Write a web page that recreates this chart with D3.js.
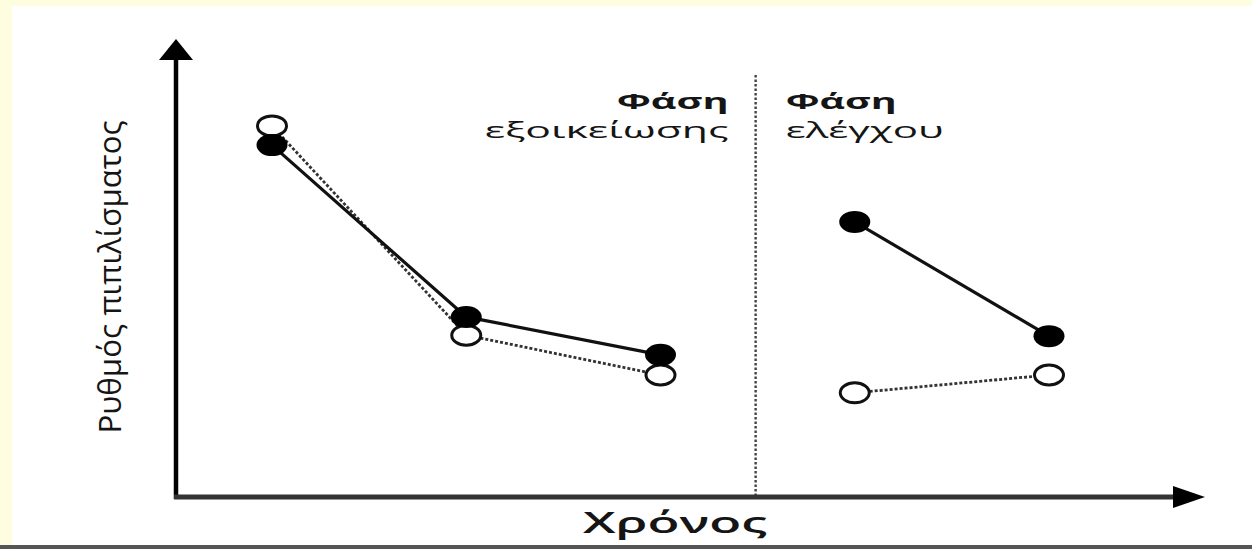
<!DOCTYPE html>
<html>
<head>
<meta charset="utf-8">
<script src="https://cdn.jsdelivr.net/npm/d3@7"></script>
<style>
  html, body { margin: 0; padding: 0; background: #fffde0; }
  svg { display: block; }
  text { font-family: "Open Sans", "Noto Sans", sans-serif; fill: #151515; }
</style>
</head>
<body>
<svg id="chart" width="1252" height="549"></svg>
<script>
// ---- data ----
const timePoints = [1, 2, 3, 4, 5];
const phaseOf    = [1, 1, 1, 2, 2];
const filledSeries = [77.0, 39.4, 31.1, 60.2, 35.2];   // solid line, filled markers
const openSeries   = [81.2, 35.4, 26.7, 22.8, 26.7];   // dotted line, open markers
const phaseBoundary = 3.5;
const phaseLabels = [["Φάση", "εξοικείωσης"], ["Φάση", "ελέγχου"]];
const yLabel = "Ρυθμός πιπιλίσματος";
const xLabel = "Χρόνος";

// ---- layout ----
const W = 1252, H = 549;
const svg = d3.select("#chart");

svg.append("rect").attr("x", 0).attr("y", 0).attr("width", W).attr("height", H).attr("fill", "#fffde0");
svg.append("rect").attr("x", 12).attr("y", 6).attr("width", W - 12).attr("height", H - 10).attr("fill", "#ffffff");
svg.append("rect").attr("x", 0).attr("y", H - 4).attr("width", W).attr("height", 4).attr("fill", "#555");

const x = d3.scaleLinear().domain([1, 5]).range([272, 1049]);
const y = d3.scaleLinear().domain([0, 100]).range([497, 40]);

const originX = 176, originY = y(0);

// phase divider
svg.append("line")
  .attr("x1", x(phaseBoundary) - 2).attr("x2", x(phaseBoundary) - 2)
  .attr("y1", 75).attr("y2", originY - 2)
  .attr("stroke", "#444").attr("stroke-width", 2.4)
  .attr("stroke-dasharray", "2.5,2");

// axes
svg.append("line")
  .attr("x1", originX).attr("x2", originX)
  .attr("y1", originY + 2).attr("y2", 58)
  .attr("stroke", "#000").attr("stroke-width", 4.5);
svg.append("path")
  .attr("d", `M${originX},39 L${originX - 17},60 L${originX + 17},60 Z`)
  .attr("fill", "#000");

svg.append("line")
  .attr("x1", originX - 2).attr("x2", 1176)
  .attr("y1", originY).attr("y2", originY)
  .attr("stroke", "#333").attr("stroke-width", 5);
svg.append("path")
  .attr("d", `M1205,${originY} L1173,${originY - 11} L1173,${originY + 11} Z`)
  .attr("fill", "#000");

// series
const pts = (vals) => timePoints.map((t, i) => ({ t, v: vals[i], p: phaseOf[i] }));
const line = d3.line().x(d => x(d.t)).y(d => y(d.v));
const filledPts = pts(filledSeries), openPts = pts(openSeries);

[1, 2].forEach(ph => {
  svg.append("path")
    .datum(openPts.filter(d => d.p === ph))
    .attr("d", line)
    .attr("fill", "none").attr("stroke", "#333")
    .attr("stroke-width", 2.8).attr("stroke-dasharray", "3,2");
  svg.append("path")
    .datum(filledPts.filter(d => d.p === ph))
    .attr("d", line)
    .attr("fill", "none").attr("stroke", "#111")
    .attr("stroke-width", 3.2);
});

svg.selectAll("ellipse.open").data(openPts).enter().append("ellipse")
  .attr("class", "open")
  .attr("cx", d => x(d.t)).attr("cy", d => y(d.v))
  .attr("rx", 14.5).attr("ry", 10)
  .attr("fill", "#fff").attr("stroke", "#111").attr("stroke-width", 3);

svg.selectAll("ellipse.filled").data(filledPts).enter().append("ellipse")
  .attr("class", "filled")
  .attr("cx", d => x(d.t)).attr("cy", d => y(d.v))
  .attr("rx", 15.5).attr("ry", 11)
  .attr("fill", "#000");

// phase labels
const bx = x(phaseBoundary);
const lab1 = svg.append("g");
lab1.append("text").attr("x", bx - 29).attr("y", 109).attr("text-anchor", "end")
  .attr("font-size", 22).attr("font-weight", 700)
  .attr("textLength", 112).attr("lengthAdjust", "spacingAndGlyphs")
  .text(phaseLabels[0][0]);
lab1.append("text").attr("x", bx - 29).attr("y", 138).attr("text-anchor", "end")
  .attr("font-size", 22).attr("font-weight", 500)
  .attr("textLength", 244).attr("lengthAdjust", "spacingAndGlyphs")
  .text(phaseLabels[0][1]);
const lab2 = svg.append("g");
lab2.append("text").attr("x", bx + 28).attr("y", 109)
  .attr("font-size", 22).attr("font-weight", 700)
  .attr("textLength", 111).attr("lengthAdjust", "spacingAndGlyphs")
  .text(phaseLabels[1][0]);
lab2.append("text").attr("x", bx + 28).attr("y", 138)
  .attr("font-size", 22).attr("font-weight", 500)
  .attr("textLength", 158).attr("lengthAdjust", "spacingAndGlyphs")
  .text(phaseLabels[1][1]);

// axis titles
svg.append("text")
  .attr("transform", "translate(121,277) rotate(-90) scale(1,1.3)")
  .attr("text-anchor", "middle")
  .attr("font-size", 24).attr("font-weight", 500)
  .attr("textLength", 313).attr("lengthAdjust", "spacingAndGlyphs")
  .text(yLabel);

svg.append("text")
  .attr("x", 675).attr("y", 533)
  .attr("text-anchor", "middle")
  .attr("font-size", 28).attr("font-weight", 600)
  .attr("textLength", 184).attr("lengthAdjust", "spacingAndGlyphs")
  .text(xLabel);
</script>
</body>
</html>
